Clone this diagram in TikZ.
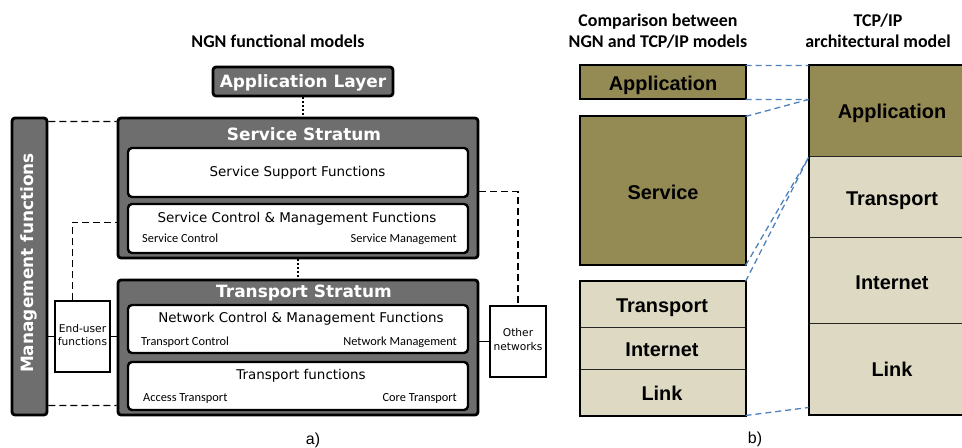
\documentclass[tikz,border=0pt]{standalone}
\usepackage{fontspec}
\setmainfont{DejaVu Sans}
\newfontfamily\carl{Carlito}
\newfontfamily\libs{Liberation Sans}
\usetikzlibrary{calc}
\definecolor{ngngray}{RGB}{110,110,110}
\definecolor{olivefill}{RGB}{148,138,84}
\definecolor{beigefill}{RGB}{221,217,195}
\definecolor{linkblue}{RGB}{79,129,189}
\begin{document}
\begin{tikzpicture}[x=1bp,y=-1bp,
  darkbox/.style={draw=black,line width=2.8bp,fill=ngngray,rounded corners=3bp,inner sep=0pt},
  whitebox/.style={draw=black,line width=2.4bp,fill=white,rounded corners=4bp,inner sep=0pt},
  plainbox/.style={draw=black,line width=1.1bp,fill=white,inner sep=0pt},
  hdr/.style={text=white,font=\bfseries\fontsize{17}{20}\selectfont,inner sep=0pt},
  mid/.style={font=\fontsize{13.5}{16}\selectfont,inner sep=0pt},
  small/.style={font=\carl\fontsize{12.4}{14}\selectfont,inner sep=0pt},
  tiny/.style={font=\fontsize{10.7}{12}\selectfont,inner sep=0pt},
  ttl/.style={font=\carl\bfseries\fontsize{18}{21}\selectfont,inner sep=0pt},
  capt/.style={font=\libs\fontsize{16}{19}\selectfont,inner sep=0pt},
  olivebox/.style={draw=black!85,line width=1bp,fill=olivefill,inner sep=0pt},
  beigebox/.style={draw=black!85,line width=1bp,fill=beigefill,inner sep=0pt},
  frame/.style={draw=black,line width=2bp},
  lbl/.style={font=\libs\bfseries\fontsize{20}{24}\selectfont,inner sep=0pt},
  cmp/.style={draw=linkblue,line width=1.3bp,dash pattern=on 6bp off 4bp},
  mgdash/.style={draw=black,line width=1.3bp,dash pattern=on 7bp off 4bp},
  solidc/.style={draw=black,line width=1.5bp},
  dotc/.style={draw=black,line width=1.5bp,dash pattern=on 1.5bp off 2.5bp},
  ]
\useasboundingbox (0,0) rectangle (962,448);
\clip (0,0) rectangle (962,448);

% ---------- titles ----------
\node[ttl,anchor=base] (t1) at (278,48) {NGN functional models};
\node[ttl,anchor=base] (t2a) at (658,27) {Comparison between};
\node[ttl,anchor=base] (t2b) at (658,48) {NGN and TCP/IP models};
\node[ttl,anchor=base] (t3a) at (878,27) {TCP/IP};
\node[ttl,anchor=base] (t3b) at (878,48) {architectural model};
\node[capt,anchor=base] (capa) at (313,444) {a)};
\node[capt,anchor=base] (capb) at (755,443) {b)};

% ---------- left: NGN ----------
\node[darkbox,minimum width=180bp,minimum height=29bp] (applayer) at (303,81.5) {};
\node[hdr,anchor=base] (applbl) at (303,88) {Application Layer};

\node[darkbox,minimum width=360bp,minimum height=140bp] (svcstr) at (298,188) {};
\node[hdr,anchor=base] (svclbl) at (304,141) {Service Stratum};
\node[whitebox,minimum width=340bp,minimum height=49bp] (ssf) at (298,172.5) {};
\node[mid,anchor=base] (ssflbl) at (297.5,177) {Service Support Functions};
\node[whitebox,minimum width=340bp,minimum height=49bp] (scm) at (298,228.5) {};
\node[mid,anchor=base] (scmlbl) at (297,223) {Service Control \& Management Functions};
\node[small,anchor=base west] (scl) at (142,243) {Service Control};
\node[small,anchor=base east] (sml) at (457,243) {Service Management};

\node[darkbox,minimum width=360bp,minimum height=135bp] (trstr) at (298,347.5) {};
\node[hdr,anchor=base] (trlbl) at (304,298) {Transport Stratum};
\node[whitebox,minimum width=340bp,minimum height=48bp] (ncm) at (298,329) {};
\node[mid,anchor=base] (ncmlbl) at (301,323) {Network Control \& Management Functions};
\node[small,anchor=base west] (tcl) at (141,346) {Transport Control};
\node[small,anchor=base east] (nml) at (457,346) {Network Management};
\node[whitebox,minimum width=340bp,minimum height=48bp] (tf) at (298,386) {};
\node[mid,anchor=base] (tflbl) at (301,380) {Transport functions};
\node[small,anchor=base west] (atl) at (143,401.5) {Access Transport};
\node[small,anchor=base east] (ctl) at (457,401.5) {Core Transport};

\node[darkbox,minimum width=35bp,minimum height=297bp] (mgmt) at (29.5,266.5) {};
\node[hdr,rotate=90] (mgmtlbl) at (29,263) {Management functions};

\node[plainbox,minimum width=55bp,minimum height=71bp] (enduser) at (82.5,336.5) {};
\node[tiny,anchor=base] (eu1) at (82.5,333) {End-user};
\node[tiny,anchor=base] (eu2) at (82.5,346) {functions};

\node[plainbox,minimum width=56bp,minimum height=71bp] (othernet) at (518,341.5) {};
\node[tiny,anchor=base] (on1) at (518,337) {Other};
\node[tiny,anchor=base] (on2) at (518,351) {networks};

% connectors
\draw[mgdash] ($(mgmt.north east)+(0,5)$) -- ($(svcstr.north west)+(0,5)$);
\draw[mgdash] ($(mgmt.south east)+(0,-11)$) -- ($(trstr.south west)+(0,-11)$);
\draw[solidc] (mgmt.east |- enduser.west) -- (enduser.west);
\draw[solidc] (enduser.east) -- (trstr.west |- enduser.east);
\draw[mgdash] ($(enduser.north west)+(18,0)$) |- ($(svcstr.south west)+(0,-37)$);
\draw[solidc] (trstr.east |- othernet.west) -- (othernet.west);
\draw[mgdash] ($(svcstr.north east)+(0,75)$) -| (othernet.north);
\draw[dotc] (applayer.south) -- (applayer.south |- svcstr.north);
\draw[dotc] (svcstr.south) -- (trstr.north);

% ---------- right: comparison ----------
\node[olivebox,minimum width=165bp,minimum height=33bp] (rapp) at (662.5,82.5) {};
\node[lbl,anchor=base] (rapplbl) at (663,91) {Application};
\node[olivebox,minimum width=165bp,minimum height=148bp] (rsvc) at (662.5,191) {};
\node[lbl,anchor=base] (rsvclbl) at (663,200) {Service};
\draw[frame] (rapp.north west) rectangle (rapp.south east);
\draw[frame] (rsvc.north west) rectangle (rsvc.south east);

\node[beigebox,minimum width=165bp,minimum height=46bp] (rtr) at (662.5,305) {};
\node[lbl,anchor=base] (rtrlbl) at (662,313) {Transport};
\node[beigebox,minimum width=165bp,minimum height=42bp] (rint) at (662.5,349) {};
\node[lbl,anchor=base] (rintlbl) at (662,357) {Internet};
\node[beigebox,minimum width=165bp,minimum height=45bp] (rlink) at (662.5,392.5) {};
\node[lbl,anchor=base] (rlinklbl) at (662,400.5) {Link};
\draw[frame] (rtr.north west) rectangle (rlink.south east);

\node[olivebox,minimum width=166bp,minimum height=91bp] (tapp) at (892,111.5) {};
\node[lbl,anchor=base] (tapplbl) at (892,119) {Application};
\node[beigebox,minimum width=166bp,minimum height=81bp] (ttr) at (892,197.5) {};
\node[lbl,anchor=base] (ttrlbl) at (892,205.5) {Transport};
\node[beigebox,minimum width=166bp,minimum height=86bp] (tint) at (892,281) {};
\node[lbl,anchor=base] (tintlbl) at (892,290) {Internet};
\node[beigebox,minimum width=166bp,minimum height=90bp] (tlink) at (892,369) {};
\node[lbl,anchor=base] (tlinklbl) at (892,377) {Link};
\draw[frame] (tapp.north west) rectangle (tlink.south east);

\coordinate (tjoin) at ($(tapp.north west)+(0,34)$);
\coordinate (tlow) at ($(tlink.south west)+(0,-7)$);
\draw[cmp] (rapp.north east) -- (tapp.north west);
\draw[cmp] (rapp.south east) -- (tjoin);
\draw[cmp] (rsvc.north east) -- (tjoin);
\draw[cmp] (rsvc.south east) -- (tapp.south west);
\draw[cmp] (rtr.north east) -- (tapp.south west);
\draw[cmp] (rlink.south east) -- (tlow);
\end{tikzpicture}
\end{document}
